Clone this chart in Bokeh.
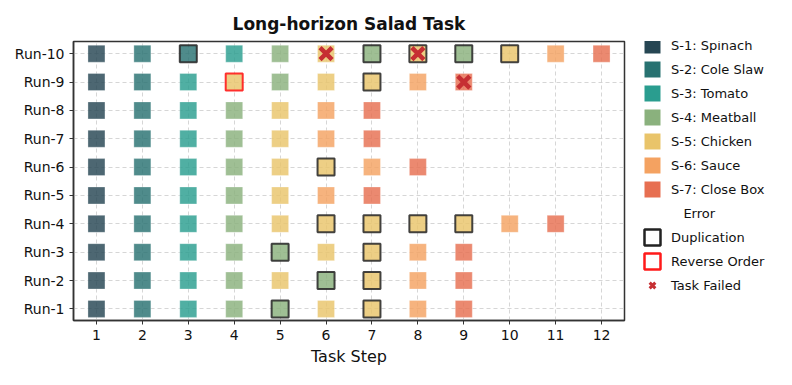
from bokeh.plotting import figure
from bokeh.models import Legend, LegendItem
from bokeh.layouts import row
from bokeh.embed import file_html
from bokeh.resources import INLINE

FONT = "DejaVu Sans"

task_names = ["S-1: Spinach", "S-2: Cole Slaw", "S-3: Tomato", "S-4: Meatball",
              "S-5: Chicken", "S-6: Sauce", "S-7: Close Box"]
task_colors = ["#264653", "#287271", "#2a9d8f", "#8ab17d", "#e9c46a", "#f4a261", "#e76f51"]
run_labels = ["Run-1", "Run-2", "Run-3", "Run-4", "Run-5",
              "Run-6", "Run-7", "Run-8", "Run-9", "Run-10"]
step_ticks = [1, 2, 3, 4, 5, 6, 7, 8, 9, 10, 11, 12]

# task type (1..7) performed at each step of each run
run_1 = [1, 2, 3, 4, 4, 5, 5, 6, 7]
run_2 = [1, 2, 3, 4, 5, 4, 5, 6, 7]
run_3 = [1, 2, 3, 4, 4, 5, 5, 6, 7]
run_4 = [1, 2, 3, 4, 5, 5, 5, 5, 5, 6, 7]
run_5 = [1, 2, 3, 4, 5, 6, 7]
run_6 = [1, 2, 3, 4, 5, 5, 6, 7]
run_7 = [1, 2, 3, 4, 5, 6, 7]
run_8 = [1, 2, 3, 4, 5, 6, 7]
run_9 = [1, 2, 3, 5, 4, 5, 5, 6, 7]
run_10 = [1, 2, 2, 3, 4, 5, 4, 5, 4, 5, 6, 7]

# errors: (run number, step)
dup_run = [1, 1, 2, 2, 3, 3, 4, 4, 4, 4, 6, 9, 10, 10, 10, 10, 10]
dup_step = [5, 7, 6, 7, 5, 7, 6, 7, 8, 9, 6, 7, 3, 7, 8, 9, 10]
rev_run = [9]
rev_step = [4]
fail_run = [10, 10, 9]
fail_step = [6, 8, 9]

runs = [run_1, run_2, run_3, run_4, run_5, run_6, run_7, run_8, run_9, run_10]

SQ = dict(width=17, height=17, width_units="screen", height_units="screen")

p = figure(width=626, height=369, x_range=(0.5, 12.5), y_range=(0.59, 10.43),
           output_backend="svg", toolbar_location=None,
           min_border_left=73, min_border_right=2, min_border_top=41, min_border_bottom=49,
           title="Long-horizon Salad Task")

# legend-only figure (its renderers are hidden; only their legend swatches are shown)
lg = figure(width=150, height=369, x_range=(0, 1), y_range=(0, 1), title=None,
            output_backend="svg", toolbar_location=None,
            x_axis_location=None, y_axis_location=None, min_border=0)
lg.grid.visible = False
lg.outline_line_color = None

p.title.align = "center"
p.title.text_font = FONT
p.title.text_font_size = "17px"
p.title.text_font_style = "bold"
p.title.text_color = "#111111"
p.title.standoff = 16

items = []
for t, (name, c) in enumerate(zip(task_names, task_colors), start=1):
    tx, ty = [], []
    for ri, seq in enumerate(runs):
        for si, tt in enumerate(seq):
            if tt == t:
                tx.append(si + 1)
                ty.append(ri + 1)
    p.rect(tx, ty, fill_color=c, fill_alpha=0.82, line_color="white", line_width=0.6,
           line_alpha=0.5, **SQ)
    r = lg.rect(tx, ty, fill_color=c, fill_alpha=1.0, line_color=None, visible=False, **SQ)
    items.append(LegendItem(label=name, renderers=[r]))

items.append(LegendItem(label="\u00a0\u00a0\u00a0Error", renderers=[]))

p.rect(dup_step, dup_run, fill_alpha=0, line_color="#222222", line_width=2, line_alpha=0.85, **SQ)
r_dup = lg.rect(dup_step, dup_run, fill_alpha=0, line_color="#222222", line_width=2.5,
                visible=False, **SQ)
items.append(LegendItem(label="Duplication", renderers=[r_dup]))

p.rect(rev_step, rev_run, fill_alpha=0, line_color="#ff1a1a", line_width=2, line_alpha=0.9, **SQ)
r_rev = lg.rect(rev_step, rev_run, fill_alpha=0, line_color="#ff1a1a", line_width=2.5,
                visible=False, **SQ)
items.append(LegendItem(label="Reverse Order", renderers=[r_rev]))

p.scatter(fail_step, fail_run, marker="x", size=17, line_color="#c62f33", line_width=4.5)
r_fail = lg.scatter(fail_step, fail_run, marker="x", size=17, line_color="#c62f33",
                    line_width=3, visible=False)
items.append(LegendItem(label="Task Failed", renderers=[r_fail]))

legend = Legend(items=items, title="\u00a0\u00a0\u00a0\u00a0\u00a0Task Type", location=(16, 25),
                border_line_color=None, background_fill_alpha=0,
                inactive_fill_alpha=0,
                padding=3, margin=0, spacing=4, glyph_width=20, glyph_height=20,
                label_height=20, label_standoff=9,
                label_text_font=FONT, label_text_font_size="13px", label_text_color="#111111",
                title_text_font=FONT, title_text_font_size="14px", title_text_font_style="normal",
                title_text_color="#111111", title_standoff=6)
lg.add_layout(legend)

p.xaxis.ticker = step_ticks
p.yaxis.ticker = list(range(1, len(run_labels) + 1))
p.yaxis.major_label_overrides = {i + 1: lab for i, lab in enumerate(run_labels)}
p.xaxis.axis_label = "Task Step"
p.xaxis.axis_label_text_font = FONT
p.xaxis.axis_label_text_font_size = "16px"
p.xaxis.axis_label_text_font_style = "normal"
p.xaxis.axis_label_text_color = "#111111"
p.xaxis.axis_label_standoff = 4
p.axis.major_label_text_font = FONT
p.axis.major_label_text_font_size = "14px"
p.axis.major_label_text_color = "#111111"
p.axis.minor_tick_line_color = None
p.axis.major_tick_in = 0
p.axis.major_tick_out = 4
p.axis.major_tick_line_color = "#333333"
p.axis.axis_line_color = "#333333"
p.axis.axis_line_width = 1.5
p.outline_line_color = "#333333"
p.outline_line_width = 1.5
p.outline_line_alpha = 1

p.grid.grid_line_color = "#cccccc"
p.grid.grid_line_alpha = 0.8
p.grid.grid_line_dash = "4 3"
p.xgrid.ticker = step_ticks
p.ygrid.ticker = list(range(1, len(run_labels) + 1))

layout = row(p, lg)
open("out.html", "w").write(file_html(layout, INLINE))
